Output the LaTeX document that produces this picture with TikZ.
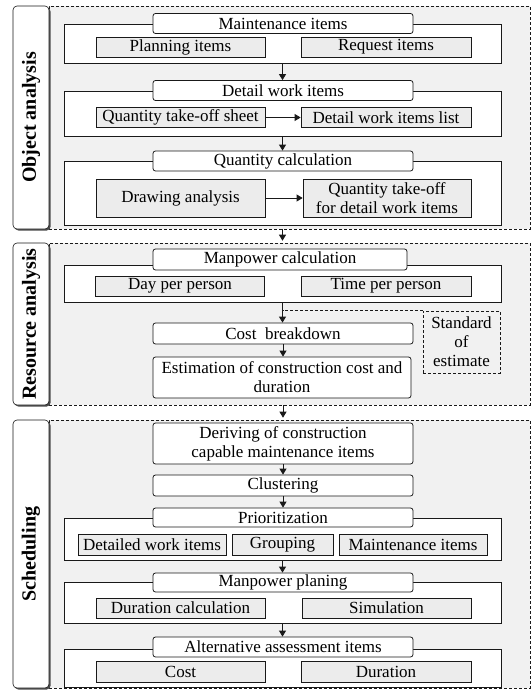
\documentclass[tikz,border=0pt]{standalone}
\usepackage{fontspec}
\setmainfont{Liberation Serif}
\usetikzlibrary{positioning,arrows.meta,shadows}
\definecolor{pnlgrey}{RGB}{241,241,241}
\definecolor{subgrey}{RGB}{236,236,236}
\definecolor{lnblack}{RGB}{25,25,25}
\tikzset{
  panel/.style={draw=lnblack, dashed, dash pattern=on 3pt off 2pt, fill=pnlgrey,
                line width=0.6pt, inner sep=0pt, minimum width=481pt},
  side/.style={draw=lnblack, fill=white, rounded corners=4pt, line width=0.6pt,
               inner sep=0pt, minimum width=36pt,
               drop shadow={shadow xshift=1.6pt, shadow yshift=-1.6pt,
                            fill=black!70, opacity=1}},
  sidetxt/.style={rotate=90, font=\fontsize{20}{22}\selectfont\bfseries},
  grp/.style={draw=lnblack, fill=white, line width=0.8pt, inner sep=0pt,
              minimum width=437pt},
  hdr/.style={draw=lnblack, fill=white, rounded corners=2.5pt, line width=0.8pt,
              minimum width=260pt, minimum height=20pt, inner sep=0pt, align=center},
  sub/.style={draw=lnblack, fill=subgrey, line width=0.8pt, minimum width=169pt,
              minimum height=20pt, inner sep=0pt, align=center},
  stdbox/.style={draw=lnblack, dashed, dash pattern=on 3pt off 2pt, line width=0.6pt,
                 minimum width=77pt, minimum height=63pt, inner sep=0pt, align=center},
  flow/.style={-{Triangle[length=6pt,width=7pt]}, line width=0.8pt, color=lnblack},
  link/.style={dashed, dash pattern=on 3pt off 2pt, line width=0.6pt, color=lnblack},
}
\begin{document}
\begin{tikzpicture}[x=1pt, y=-1pt, font=\fontsize{17}{19}\selectfont]
\useasboundingbox (0,0) rectangle (532,690);
\node[panel, minimum height=223pt] (objpnl) at (289.5,117.5) {};
\node[panel, minimum height=162pt] (respnl) at (289.5,324) {};
\node[panel, minimum height=268pt] (schpnl) at (289.5,554) {};
\node[side, minimum height=223pt] (objside) at (31,117.5) {};
\node[side, minimum height=162pt] (resside) at (31,324) {};
\node[side, minimum height=268pt] (schside) at (31,554) {};
\node[sidetxt] (objtxt) at (objside) {Object analysis};
\node[sidetxt] (restxt) at (resside) {Resource analysis};
\node[sidetxt] (schtxt) at (schside) {Scheduling};

\node[grp, minimum height=39pt] (mntgrp) at (282.5,43.5) {};
\node[hdr] (mnthdr) at (283,23.5) {Maintenance items};
\node[sub] (plan) at (180.5,47) {Planning items};
\node[sub, minimum width=170pt] (req) at (386,47) {Request items};

\node[grp, minimum height=45pt] (dwigrp) at (282.5,113.5) {};
\node[hdr] (dwihdr) at (283,90.5) {Detail work items};
\node[sub] (qts) at (180.5,117.5) {Quantity take-off sheet};
\node[sub, minimum width=170pt] (dwil) at (386,117.5) {Detail work items list};

\node[grp, minimum height=64pt] (qcgrp) at (282.5,193) {};
\node[hdr] (qchdr) at (283,161) {Quantity calculation};
\node[sub, minimum height=38pt] (drw) at (180.5,198) {Drawing analysis};
\node[sub, minimum width=168pt, minimum height=38pt] (qto) at (387,198)
  {Quantity take-off\\for detail work items};

\draw[flow] (mntgrp.south) -- (mntgrp.south |- dwihdr.north);
\draw[flow] (dwigrp.south) -- (dwigrp.south |- qchdr.north);
\draw[flow] (qts) -- (dwil);
\draw[flow] (drw) -- (qto);
\draw[flow] (qcgrp.south |- objpnl.south) -- ([yshift=2pt]qcgrp.south |- respnl.north);

\node[grp, minimum height=37pt] (mpcgrp) at (282.5,283.5) {};
\node[hdr, minimum width=254pt, minimum height=21pt] (mpchdr) at (280,259.5) {Manpower calculation};
\node[sub] (dpp) at (180,286) {Day per person};
\node[sub, minimum width=170pt] (tpp) at (386,286) {Time per person};
\node[hdr, minimum height=21pt] (cost) at (283,333.5) {Cost~ breakdown};
\node[hdr, minimum width=258pt, minimum height=41pt] (est) at (282,377.5)
  {Estimation of construction cost and\\duration};
\node[stdbox, minimum height=62pt] (stdest) at (461.5,342) {Standard\\of\\estimate};

\draw[flow] (mpcgrp.south) -- (mpcgrp.south |- cost.north);
\draw[link] (stdest.north west) -- (mpcgrp.south |- stdest.north);
\draw[flow] (cost.south) -- (cost.south |- est.north);
\draw[flow] (cost.south |- respnl.south) -- ([yshift=2pt]cost.south |- schpnl.north);

\node[hdr, minimum height=41pt] (derive) at (283,443.5)
  {Deriving of construction\\capable maintenance items};
\node[hdr, minimum height=21pt] (clus) at (283,485.5) {Clustering};

\node[grp, minimum height=42pt] (priogrp) at (282.5,539) {};
\node[hdr, minimum height=19pt] (priohdr) at (283,517.5) {Prioritization};
\node[sub, minimum width=148pt, minimum height=21pt] (dwitems) at (152,544.5) {Detailed work items};
\node[sub, minimum width=101pt, minimum height=21pt] (grping) at (282.5,544.5) {Grouping};
\node[sub, minimum width=148pt, minimum height=21pt] (mntitems) at (413,544.5) {Maintenance items};

\node[grp, minimum height=41pt] (mppgrp) at (282.5,602.5) {};
\node[hdr, minimum height=19pt] (mpphdr) at (283,582.5) {Manpower planing};
\node[sub] (durcalc) at (180.5,608) {Duration calculation};
\node[sub] (sim) at (386.5,608) {Simulation};

\node[grp, minimum height=38pt] (altgrp) at (282.5,668) {};
\node[hdr] (althdr) at (283,647) {Alternative assessment items};
\node[sub, minimum height=21pt] (costsub) at (180.5,671.5) {Cost};
\node[sub, minimum width=170pt, minimum height=21pt] (dursub) at (386,671.5) {Duration};

\draw[flow] (derive.south) -- (clus.north);
\draw[flow] (clus.south) -- (priohdr.north);
\draw[flow] (priogrp.south) -- (priogrp.south |- mpphdr.north);
\draw[flow] (mppgrp.south) -- (mppgrp.south |- althdr.north);
\end{tikzpicture}
\end{document}
